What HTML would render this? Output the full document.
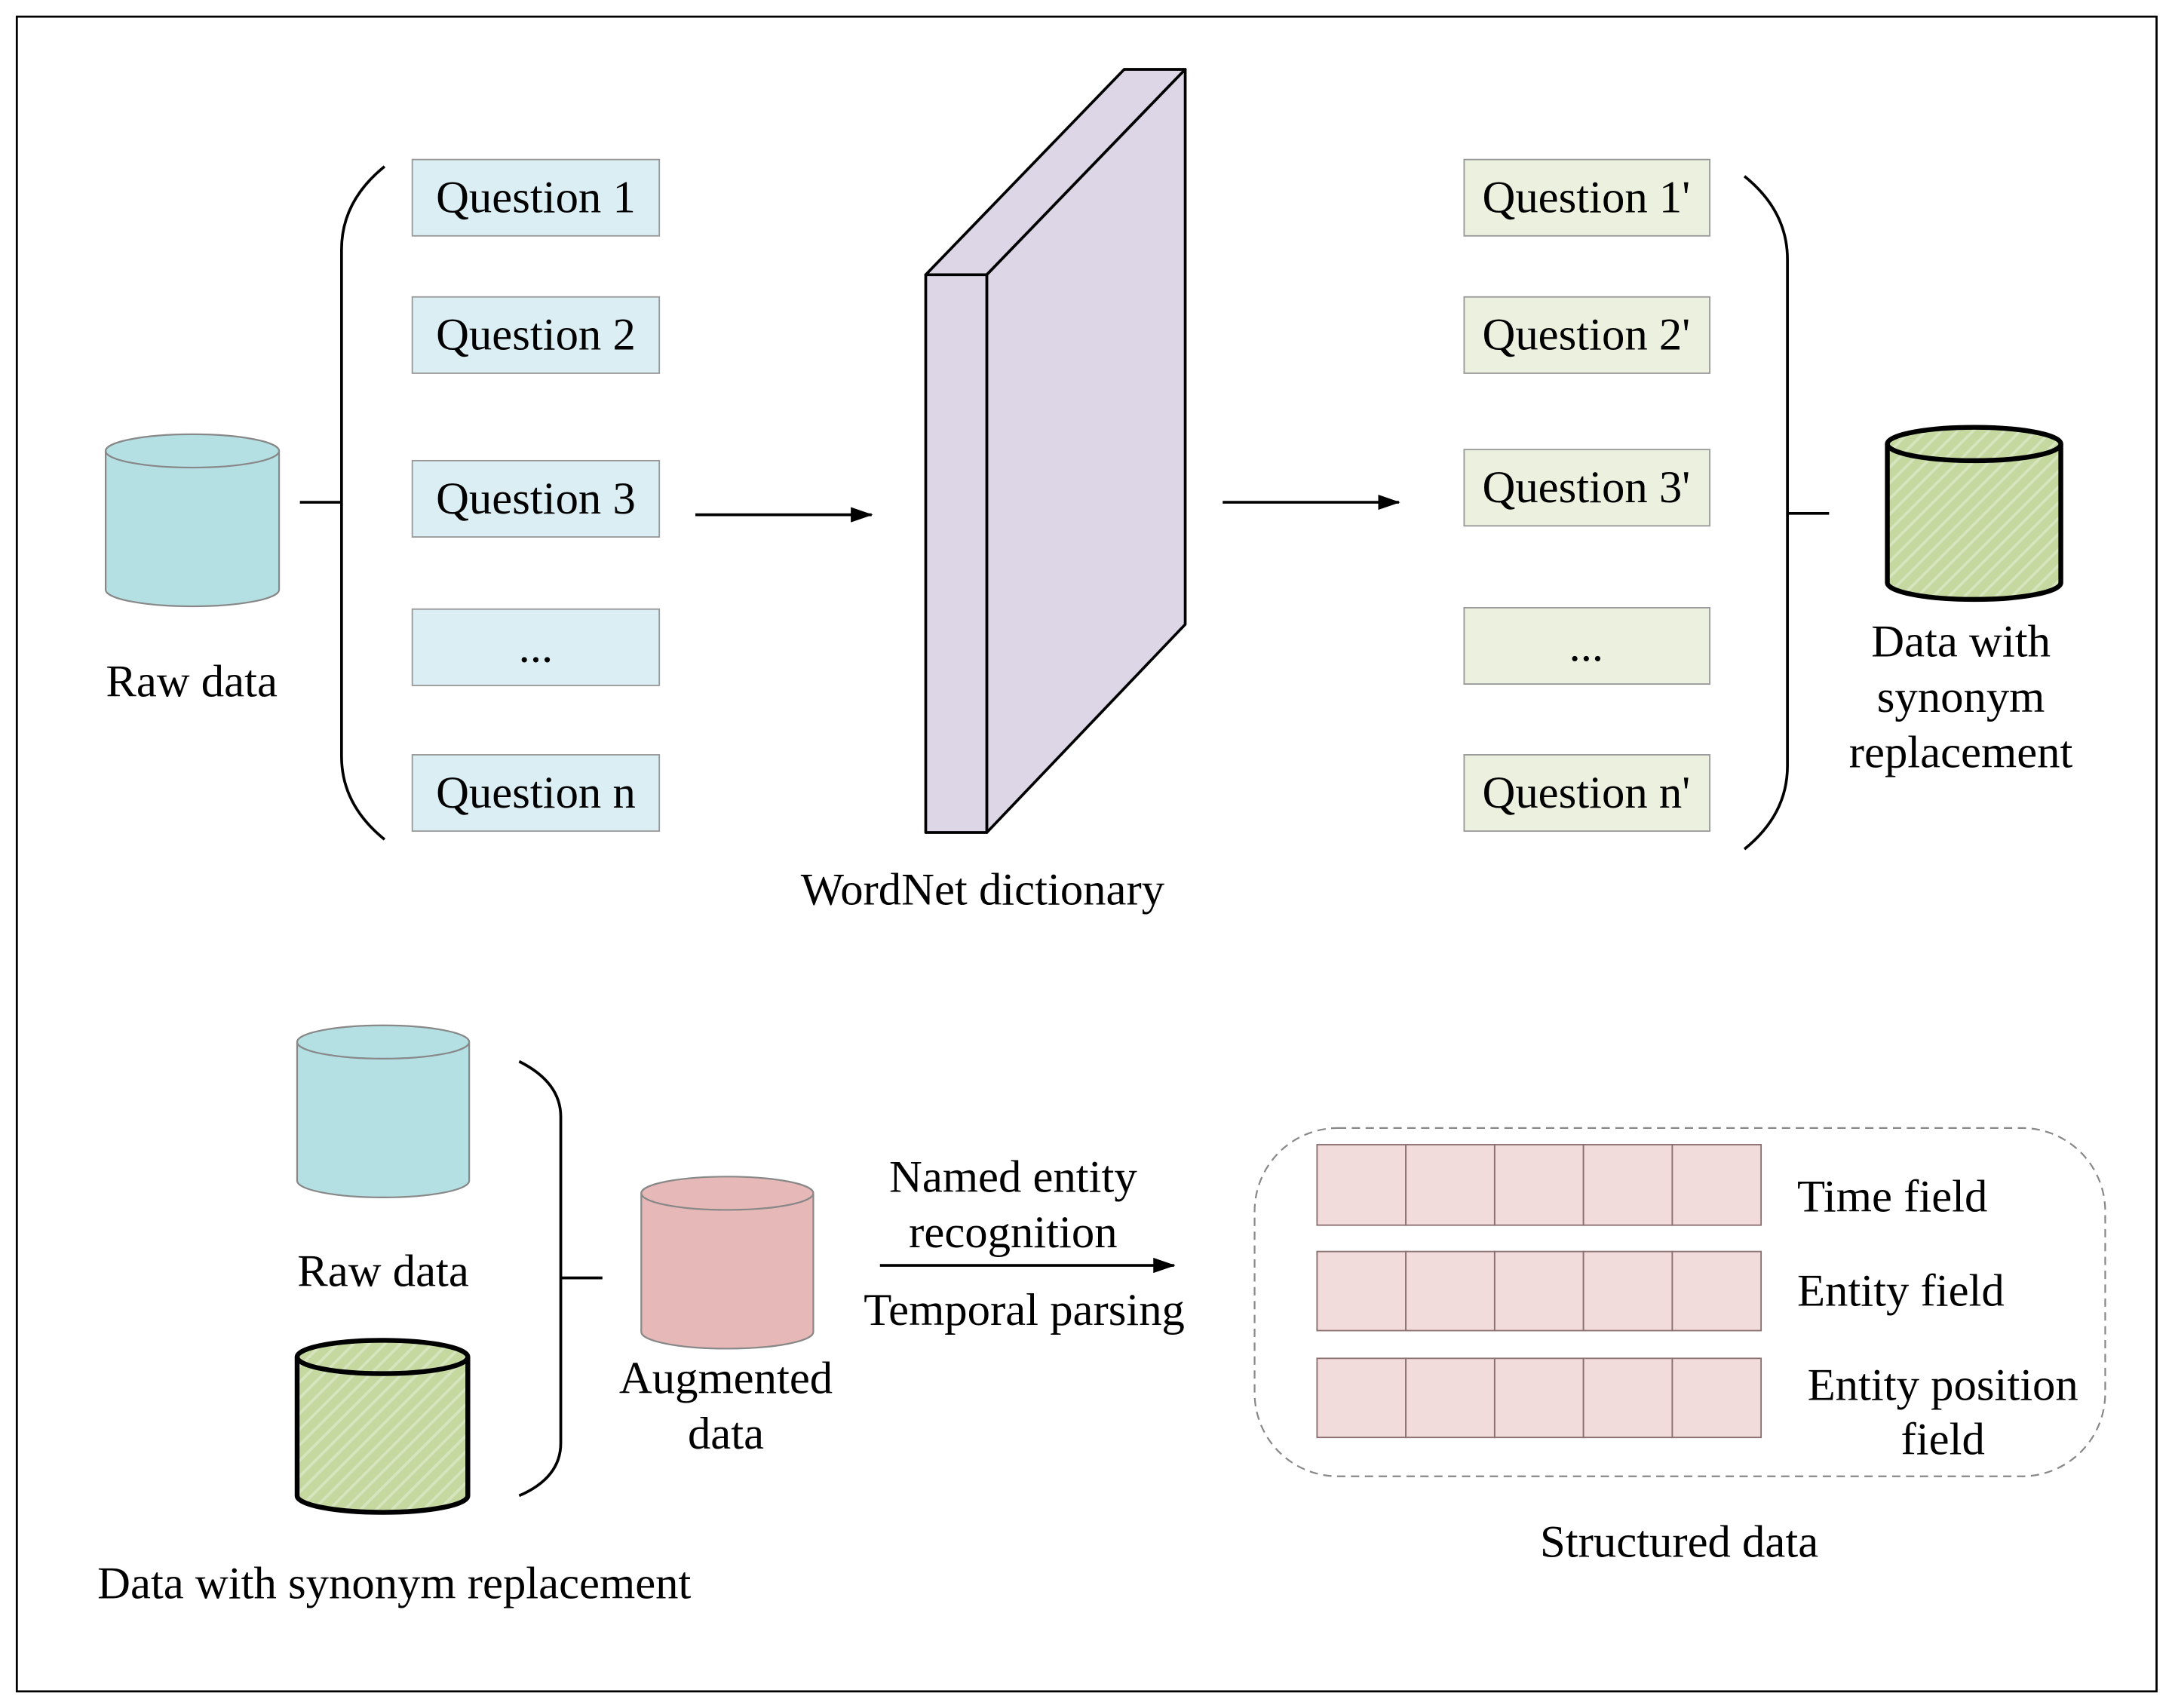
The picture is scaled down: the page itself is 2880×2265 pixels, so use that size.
<!DOCTYPE html>
<html><head><meta charset="utf-8"><style>
html,body{margin:0;padding:0;background:#fff;}
svg{display:block;}
text{font-family:"Liberation Serif",serif;font-size:33px;fill:#000;}
</style></head><body>
<svg width="2880" height="2265" viewBox="0 0 1565 1231" xmlns="http://www.w3.org/2000/svg">
<defs>
<pattern id="h" width="8" height="8" patternUnits="userSpaceOnUse" patternTransform="rotate(45)">
<rect width="8" height="8" fill="#c4d8a0"/><rect width="2" height="8" fill="#d6e5bd"/>
</pattern>
<marker id="a" markerWidth="16" markerHeight="11" refX="15" refY="5.5" orient="auto" markerUnits="userSpaceOnUse" viewBox="0 0 16 11"><path d="M0,0 L16,5.5 L0,11 z" fill="#000"/></marker>
</defs>
<rect x="12" y="12" width="1542" height="1207" fill="#fff" stroke="#000" stroke-width="1.5"/>

<g fill="#dbeef3" stroke="#999" stroke-width="1">
<rect x="297" y="115" width="178" height="55"/><rect x="297" y="214" width="178" height="55"/>
<rect x="297" y="332" width="178" height="55"/><rect x="297" y="439" width="178" height="55"/>
<rect x="297" y="544" width="178" height="55"/>
</g>
<g text-anchor="middle">
<text x="386" y="153">Question 1</text><text x="386" y="252">Question 2</text>
<text x="386" y="370">Question 3</text><text x="386" y="477">...</text>
<text x="386" y="582">Question n</text>
</g>
<g fill="#ebf1de" stroke="#999" stroke-width="1">
<rect x="1055" y="115" width="177" height="55"/><rect x="1055" y="214" width="177" height="55"/>
<rect x="1055" y="324" width="177" height="55"/><rect x="1055" y="438" width="177" height="55"/>
<rect x="1055" y="544" width="177" height="55"/>
</g>
<g text-anchor="middle">
<text x="1143" y="153">Question 1'</text><text x="1143" y="252">Question 2'</text>
<text x="1143" y="362">Question 3'</text><text x="1143" y="476">...</text>
<text x="1143" y="582">Question n'</text>
</g>

<g fill="none" stroke="#000" stroke-width="2">
<path d="M277,120 Q246,145 246,180 L246,545 Q246,580 277,605"/>
<path d="M246,362 L216,362"/>
<path d="M1257,127 Q1288,152 1288,187 L1288,552 Q1288,587 1257,612"/>
<path d="M1288,370 L1318,370"/>
<path d="M374,765 Q404,780 404,805 L404,1040 Q404,1065 374,1078"/>
<path d="M404,921 L434,921"/>
</g>

<g stroke="#888" stroke-width="1.2">
<path d="M76,325 L76,425 A62.5,12 0 0 0 201,425 L201,325" fill="#b4e0e3"/>
<ellipse cx="138.5" cy="325" rx="62.5" ry="12" fill="#b4e0e3"/>
<path d="M214,751 L214,851 A62,12 0 0 0 338,851 L338,751" fill="#b4e0e3"/>
<ellipse cx="276" cy="751" rx="62" ry="12" fill="#b4e0e3"/>
<path d="M462,860 L462,960 A62,12 0 0 0 586,960 L586,860" fill="#e6b8b7"/>
<ellipse cx="524" cy="860" rx="62" ry="12" fill="#e6b8b7"/>
</g>
<g stroke="#000" stroke-width="3.5">
<path d="M1360,320 L1360,420 A62.5,12 0 0 0 1485,420 L1485,320" fill="url(#h)"/>
<ellipse cx="1422.5" cy="320" rx="62.5" ry="12" fill="url(#h)"/>
<path d="M214,978 L214,1078 A61.5,12 0 0 0 337,1078 L337,978" fill="url(#h)"/>
<ellipse cx="275.5" cy="978" rx="61.5" ry="12" fill="url(#h)"/>
</g>

<g fill="#dcd6e6" stroke="#000" stroke-width="2" stroke-linejoin="round">
<polygon points="667,198 711,198 854,50 810,50"/>
<polygon points="711,198 854,50 854,450 711,600"/>
<rect x="667" y="198" width="44" height="402"/>
</g>

<g stroke="#000" stroke-width="2" marker-end="url(#a)">
<line x1="501" y1="371" x2="628" y2="371"/>
<line x1="881" y1="362" x2="1008" y2="362"/>
<line x1="634" y1="912" x2="846" y2="912"/>
</g>

<g text-anchor="middle">
<text x="138" y="502">Raw data</text>
<text x="708" y="652">WordNet dictionary</text>
<text x="1413" y="473">Data with</text>
<text x="1413" y="513">synonym</text>
<text x="1413" y="553">replacement</text>
<text x="276" y="927">Raw data</text>
<text x="284" y="1152">Data with synonym replacement</text>
<text x="523" y="1004">Augmented</text>
<text x="523" y="1044">data</text>
<text x="730" y="859">Named entity</text>
<text x="730" y="899">recognition</text>
<text x="738" y="955">Temporal parsing</text>
<text x="1400" y="1009">Entity position</text>
<text x="1400" y="1048">field</text>
<text x="1210" y="1122">Structured data</text>
</g>
<text x="1295" y="873">Time field</text>
<text x="1295" y="941">Entity field</text>

<rect x="904" y="813" width="613" height="251" rx="60" ry="60" fill="none" stroke="#888" stroke-width="1.2" stroke-dasharray="6,4"/>
<g fill="#f2dcdb" stroke="#8a7070" stroke-width="1">
<rect x="949" y="825" width="64" height="58"/><rect x="1013" y="825" width="64" height="58"/><rect x="1077" y="825" width="64" height="58"/><rect x="1141" y="825" width="64" height="58"/><rect x="1205" y="825" width="64" height="58"/>
<rect x="949" y="902" width="64" height="57"/><rect x="1013" y="902" width="64" height="57"/><rect x="1077" y="902" width="64" height="57"/><rect x="1141" y="902" width="64" height="57"/><rect x="1205" y="902" width="64" height="57"/>
<rect x="949" y="979" width="64" height="57"/><rect x="1013" y="979" width="64" height="57"/><rect x="1077" y="979" width="64" height="57"/><rect x="1141" y="979" width="64" height="57"/><rect x="1205" y="979" width="64" height="57"/>
</g>
</svg>
</body></html>
